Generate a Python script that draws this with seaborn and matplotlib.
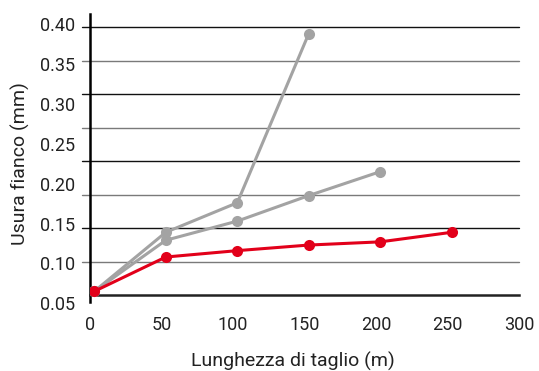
import numpy as np
import pandas as pd
import matplotlib
matplotlib.use('Agg')
import matplotlib.pyplot as plt
import seaborn as sns

# Valori (usura fianco in mm vs lunghezza di taglio in m)
x_red = [3, 53, 103, 153, 203, 253]
y_red = [0.065, 0.108, 0.116, 0.123, 0.127, 0.139]

x_gray1 = [3, 53, 103, 153]
y_gray1 = [0.065, 0.139, 0.176, 0.388]

x_gray2 = [3, 53, 103, 153, 203]
y_gray2 = [0.065, 0.129, 0.153, 0.185, 0.215]

x_ticks = [0, 50, 100, 150, 200, 250, 300]
y_ticks = [0.05, 0.10, 0.15, 0.20, 0.25, 0.30, 0.35, 0.40]
y_tick_labels = ['0.05', '0.10', '0.15', '0.20', '0.25', '0.30', '0.35', '0.40']

# base of the x axis and the grid (the grid is not aligned with the labels)
y_base = 0.0604
y_grid_top = 0.3962
y_top = 0.4125

sns.set_style('white')
plt.rcParams['font.family'] = ['Roboto', 'DejaVu Sans']

fig = plt.figure(figsize=(5.39, 3.71), dpi=100)
ax = fig.add_axes([90 / 539, 1 - 307.3 / 371, 429 / 539, 293.3 / 371])

red = '#e2001a'
gray = '#a3a3a3'

# grid lines, alternating black / gray
grid_vals = np.linspace(y_base, y_grid_top, 9)[1:]
for i, g in enumerate(grid_vals):
    c = '#7a7a7a' if i % 2 == 0 else '#111111'
    ax.axhline(g, xmin=-8 / 429, xmax=1, color=c, lw=1.0, clip_on=False, zorder=1)

df_g1 = pd.DataFrame({'x': x_gray1, 'y': y_gray1})
df_g2 = pd.DataFrame({'x': x_gray2, 'y': y_gray2})
df_r = pd.DataFrame({'x': x_red, 'y': y_red})

for d, c in [(df_g1, gray), (df_g2, gray), (df_r, red)]:
    sns.lineplot(data=d, x='x', y='y', ax=ax, color=c, marker='o', markersize=8,
                 markeredgewidth=0, linewidth=2.2, sort=False, zorder=3)

ax.set_xlim(0, 300)
ax.set_ylim(0.045, y_top)

ax.spines['top'].set_visible(False)
ax.spines['right'].set_visible(False)
ax.spines['bottom'].set_position(('data', y_base))
ax.spines['bottom'].set_linewidth(1.8)
ax.spines['bottom'].set_color('#222222')
ax.spines['left'].set_bounds(0.0516, y_top)
ax.spines['left'].set_linewidth(1.8)
ax.spines['left'].set_color('#000000')

ax.set_xticks(x_ticks)
ax.set_yticks(y_ticks)
ax.set_yticklabels(y_tick_labels)
ax.tick_params(axis='x', direction='out', length=5, width=1, color='#555555',
               pad=10, labelsize=13, labelcolor='#222222')
ax.tick_params(axis='y', length=0, pad=11, labelsize=13, labelcolor='#222222')

ax.set_xlabel('Lunghezza di taglio (m)', fontsize=14, color='#222222')
ax.set_ylabel('Usura fianco (mm)', fontsize=14, color='#222222')
ax.xaxis.set_label_coords(0.473, -0.183)
ax.xaxis.label.set_va('center')
ax.yaxis.set_label_coords(-0.163, 0.4886)
ax.yaxis.label.set_va('center')

fig.savefig('out.png', dpi=100)
